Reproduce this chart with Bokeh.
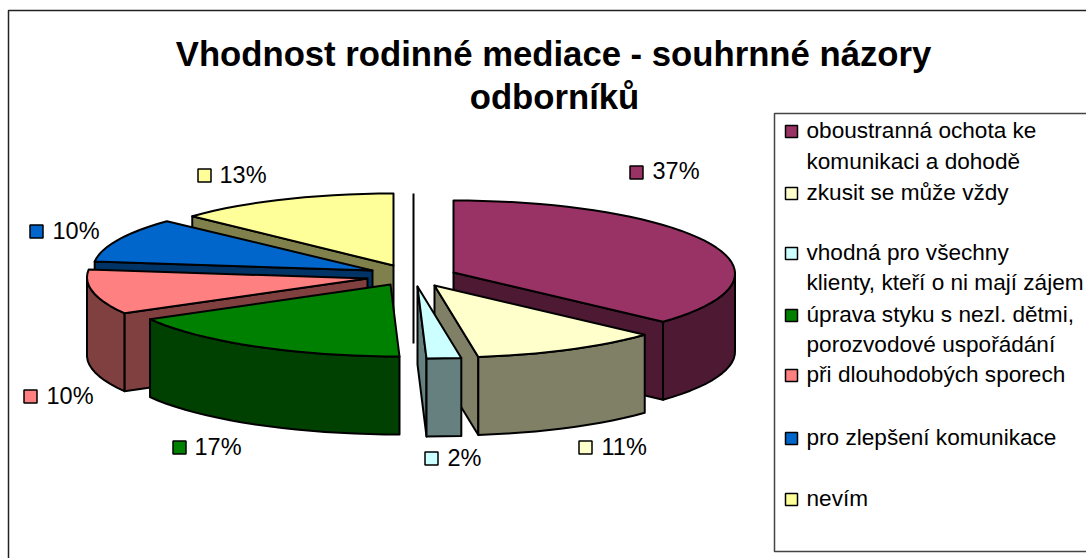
import math
from bokeh.plotting import figure
from bokeh.embed import file_html
from bokeh.resources import INLINE
from bokeh.core.properties import value

title_lines = ["Vhodnost rodinné mediace - souhrnné názory", "odborníků"]
categories = ["oboustranná ochota ke\nkomunikaci a dohodě", "zkusit se může vždy",
              "vhodná pro všechny\nklienty, kteří o ni mají zájem",
              "úprava styku s nezl. dětmi,\nporozvodové uspořádání",
              "při dlouhodobých sporech", "pro zlepšení komunikace", "nevím"]
shares = [37, 11, 2, 17, 10, 10, 13]
top_colors = ["#993366", "#FFFFCC", "#CCFFFF", "#008000", "#FF8080", "#0066CC", "#FFFF99"]
side_colors = ["#4D1933", "#808066", "#668080", "#004000", "#804040", "#003366", "#80804D"]

# layout of the exploded 3-D pie (screen pixels)
apex = [(453, 272), (434, 285), (417, 286), (390, 284), (367, 278), (372, 270), (393, 265)]
radius_x = [277, 278, 278, 282, 285, 284, 278]
radius_y = 72
depth = 78
skew = 9
label_pos = [(636, 172, 652, 170), (585, 447, 601, 446), (431, 458, 447, 457),
             (179, 447, 194, 446), (30, 396, 46, 395), (36, 231, 52, 230), (204, 175, 219, 174)]
legend_rows = [(131, [130, 161]), (193, [192]), (253, [252, 282]), (315, [314, 344]),
               (375, [374]), (438, [437]), (499, [498])]
FONT = "Liberation Sans"

p = figure(width=1086, height=558, x_range=(0, 1086), y_range=(558, 0),
           output_backend="svg", toolbar_location=None, min_border=0,
           x_axis_type=None, y_axis_type=None, outline_line_color=None)
p.grid.visible = False
p.background_fill_color = "white"
p.border_fill_color = "white"


def rim(i, t):
    r = math.radians(t)
    return (apex[i][0] + radius_x[i] * math.sin(r) + skew * (1 - math.cos(r)) / 2,
            apex[i][1] - radius_y * math.cos(r))


def poly(pts, fill, lw=2):
    p.patch([a for a, _ in pts], [b for _, b in pts], fill_color=fill,
            line_color="black", line_width=lw, line_join="round")


def arc(i, t0, t1):
    n = max(2, int(abs(t1 - t0) / 3) + 1)
    return [rim(i, t0 + (t1 - t0) * k / (n - 1)) for k in range(n)]


def down(pts):
    return [(a, b + depth) for a, b in pts]


# frame
p.line([8, 8, 1086], [558, 10, 10], line_color="#222222", line_width=1.5)

# angular extents from the shares, clockwise from 12 o'clock
starts, ends, acc = [], [], 0
for s in shares:
    starts.append(acc * 3.6)
    acc += s
    ends.append(acc * 3.6)

# back-to-front paint order
for i in [6, 5, 4, 3, 0, 1, 2]:
    t0, t1 = starts[i], ends[i]
    c, s = top_colors[i], side_colors[i]
    A = apex[i]
    if t0 >= 180 and i != 3:                   # left half: the cut at the start angle shows
        P = rim(i, t0)
        poly([A, P, (P[0], P[1] + depth), (A[0], A[1] + depth)], s)
    if i in (0, 1, 2):                         # right half: the cut at the end angle shows
        P = rim(i, t1)
        poly([A, P, (P[0], P[1] + depth), (A[0], A[1] + depth)], s)
    lo, hi = max(t0, 90), min(t1, 270)
    if hi > lo:
        a = arc(i, lo, hi)
        poly(a + down(a)[::-1], s)
    poly([A] + arc(i, t0, t1), c)

# the stray dark line of the original
p.line([413, 413], [193, 343], line_color="black", line_width=2)


def txt(x, y, s, size, bold=False, align="left"):
    p.text([x], [y], text=[s], text_font=value(FONT), text_font_size=size,
           text_baseline="middle", text_align=align, text_color="black",
           text_font_style="bold" if bold else "normal")


def swatch(x, y, c, size=13):
    p.scatter([x], [y], marker="square", size=size, fill_color=c,
              line_color="black", line_width=1.5)


# data labels
for i, (sx, sy, tx, ty) in enumerate(label_pos):
    swatch(sx, sy, top_colors[i])
    txt(tx, ty, f"{shares[i]}%", "23.5px")

# title
txt(553, 53, title_lines[0], "34.7px", bold=True, align="center")
txt(554, 96, title_lines[1], "34.7px", bold=True, align="center")

# legend
p.line([1086, 774, 774, 1086], [113, 113, 551, 551], line_color="#444444", line_width=1.5)
for i, (sy, ys) in enumerate(legend_rows):
    swatch(791, sy, top_colors[i], size=12)
    for line, y in zip(categories[i].split("\n"), ys):
        txt(806, y, line, "22.6px")

open("out.html", "w").write(file_html(p, INLINE))
